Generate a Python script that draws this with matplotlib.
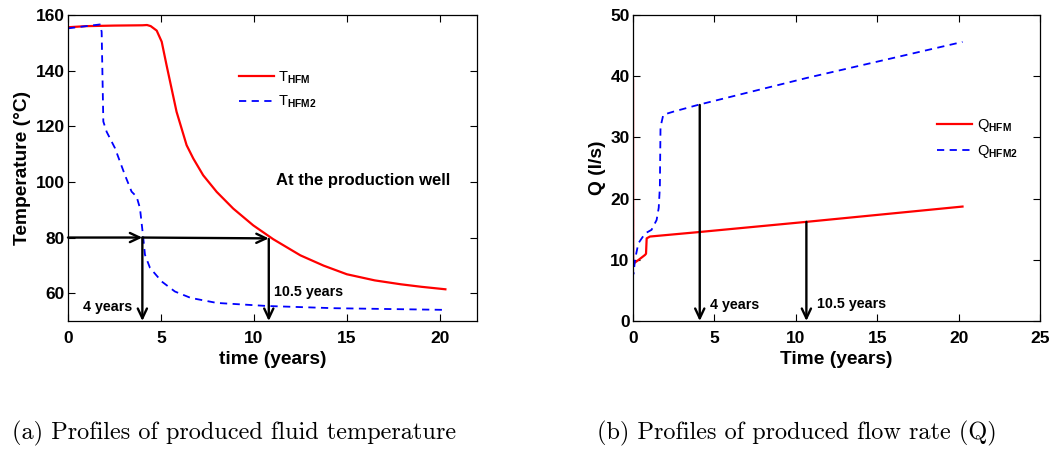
import matplotlib
matplotlib.use("Agg")
import matplotlib.pyplot as plt

plt.rcParams['font.family'] = ['Liberation Sans', 'DejaVu Sans']
plt.rcParams['mathtext.fontset'] = 'custom'
plt.rcParams['mathtext.rm'] = 'Liberation Sans:bold'
plt.rcParams['mathtext.bf'] = 'Liberation Sans:bold'
plt.rcParams['mathtext.it'] = 'Liberation Sans:bold'

# ---- Data: temperature profiles (left) ----
t_hfm = [0, 1.0, 2.5, 4.0, 4.25, 4.45, 4.77, 5.04, 5.3, 5.57, 5.84, 6.11, 6.38, 6.74, 7.27, 8.0,
         8.89, 9.96, 11.04, 12.5, 13.75, 15.0, 16.5, 17.9, 19.0, 20.3]
T_hfm = [155.6, 156.0, 156.2, 156.3, 156.4, 156.0, 154.4, 150.4, 142.0, 133.6, 125.2, 119.2, 113.2,
         108.4, 102.4, 96.4, 90.4, 84.4, 79.4, 73.6, 69.9, 66.8, 64.6, 63.2, 62.3, 61.4]
t_hfm2 = [0, 1.72, 1.81, 1.9, 2.08, 2.53, 3.06, 3.42, 3.69, 3.87, 4.05, 4.14, 4.41, 5.04, 5.75,
          6.6, 8.0, 10.7, 14.3, 20.3]
T_hfm2 = [155.2, 156.6, 154.0, 121.7, 118.0, 112.1, 102.5, 96.5, 94.7, 90.6, 79.8, 73.8, 69.1,
          64.2, 60.6, 58.3, 56.5, 55.4, 54.6, 54.0]

# ---- Data: flow-rate profiles (right) ----
tq_hfm = [0, 0.01, 0.04, 0.35, 0.74, 0.8, 0.84, 1.04, 3.92, 10.65, 20.24]
Q_hfm = [39.4, 9.0, 9.4, 10.0, 10.8, 11.0, 13.5, 13.8, 14.5, 16.2, 18.7]
tq_hfm2 = [0, 0.01, 0.04, 0.12, 0.33, 0.74, 1.14, 1.45, 1.58, 1.65, 1.69, 1.86, 2.47, 3.98,
           10.65, 20.24]
Q_hfm2 = [39.4, 7.6, 7.8, 10.0, 12.7, 14.3, 14.9, 16.5, 18.5, 21.9, 31.7, 33.7, 34.2, 35.3,
          39.7, 45.6]

# annotation values
T_threshold = 80
year_marks_T = [4.0, 10.8]
year_marks_Q = [(4.1, 35.3), (10.65, 16.2)]
mark_labels = ['4 years', '10.5 years']

W, H = 1054, 451
fig = plt.figure(figsize=(W / 100, H / 100), dpi=100)

def px_axes(l, r, t, b):
    return fig.add_axes([l / W, 1 - b / H, (r - l) / W, (b - t) / H])

bold = dict(fontweight='bold')

def style(ax):
    ax.tick_params(direction='in', top=True, right=True, length=5, width=0.8,
                   labelsize=12.5)
    ax.tick_params(axis='x', pad=7)
    ax.tick_params(axis='y', pad=2.5)
    for lab in ax.get_xticklabels() + ax.get_yticklabels():
        lab.set_fontweight('bold')
    for s in ax.spines.values():
        s.set_linewidth(0.9)

arrow_kw = dict(arrowstyle='->,head_length=0.7,head_width=0.33', color='black', lw=1.7,
                shrinkA=0, shrinkB=0)

# ---------------- Left ----------------
ax1 = px_axes(68, 477, 15, 321)
ax1.plot(t_hfm, T_hfm, color='red', lw=1.6, label=r'T$_{\mathrm{HFM}}$')
ax1.plot(t_hfm2, T_hfm2, color='blue', lw=1.3, ls=(0, (4, 3)), label=r'T$_{\mathrm{HFM2}}$')
ax1.set_xlim(0, 22)
ax1.set_ylim(50, 160)
ax1.set_xticks([0, 5, 10, 15, 20])
ax1.set_yticks([60, 80, 100, 120, 140, 160])
ax1.set_xlabel('time (years)', fontsize=13.8, labelpad=4, **bold)
ax1.set_ylabel('Temperature (°C)', fontsize=13.8, labelpad=3, **bold)
style(ax1)

ax1.annotate('', xy=(year_marks_T[0], T_threshold), xytext=(0, T_threshold), arrowprops=arrow_kw)
ax1.annotate('', xy=(year_marks_T[1], T_threshold - 0.3), xytext=(year_marks_T[0], T_threshold),
             arrowprops=arrow_kw)
for xm, yv in zip(year_marks_T, [T_threshold, T_threshold - 0.5]):
    ax1.annotate('', xy=(xm, 50), xytext=(xm, yv), arrowprops=arrow_kw)
ax1.text(0.81, 55, mark_labels[0], fontsize=10.3, va='center', ha='left', **bold)
ax1.text(11.1, 60.4, mark_labels[1], fontsize=10.3, va='center', ha='left', **bold)
ax1.text(11.18, 100.5, 'At the production well', fontsize=12, va='center', ha='left', **bold)
ax1.legend(loc='upper left', bbox_to_anchor=(0.385, 0.865), frameon=False, fontsize=10.5,
           handlelength=2.4, handletextpad=0.3, labelspacing=0.55)

# ---------------- Right ----------------
ax2 = px_axes(633, 1040, 15, 321)
ax2.plot(tq_hfm, Q_hfm, color='red', lw=1.6, label=r'Q$_{\mathrm{HFM}}$')
ax2.plot(tq_hfm2, Q_hfm2, color='blue', lw=1.3, ls=(0, (4, 3)), label=r'Q$_{\mathrm{HFM2}}$')
ax2.set_xlim(0, 25)
ax2.set_ylim(0, 50)
ax2.set_xticks([0, 5, 10, 15, 20, 25])
ax2.set_yticks([0, 10, 20, 30, 40, 50])
ax2.set_xlabel('Time (years)', fontsize=13.8, labelpad=4, **bold)
ax2.set_ylabel('Q (l/s)', fontsize=13.8, labelpad=3, **bold)
style(ax2)
for (xm, yv) in year_marks_Q:
    ax2.annotate('', xy=(xm, 0), xytext=(xm, yv), arrowprops=arrow_kw)
ax2.text(4.73, 2.6, mark_labels[0], fontsize=10.3, va='center', ha='left', **bold)
ax2.text(11.3, 2.7, mark_labels[1], fontsize=10.3, va='center', ha='left', **bold)
ax2.legend(loc='upper left', bbox_to_anchor=(0.715, 0.71), frameon=False, fontsize=10.5,
           handlelength=2.4, handletextpad=0.3, labelspacing=0.6)

# ---------------- Captions ----------------
fig.text(12 / W, 1 - 433 / H, '(a) Profiles of produced fluid temperature', family='cmr10',
         fontsize=17.5, va='center', ha='left')
fig.text(597 / W, 1 - 433 / H, '(b) Profiles of produced flow rate (Q)', family='cmr10',
         fontsize=17.5, va='center', ha='left')

fig.savefig('out.png', dpi=100)
